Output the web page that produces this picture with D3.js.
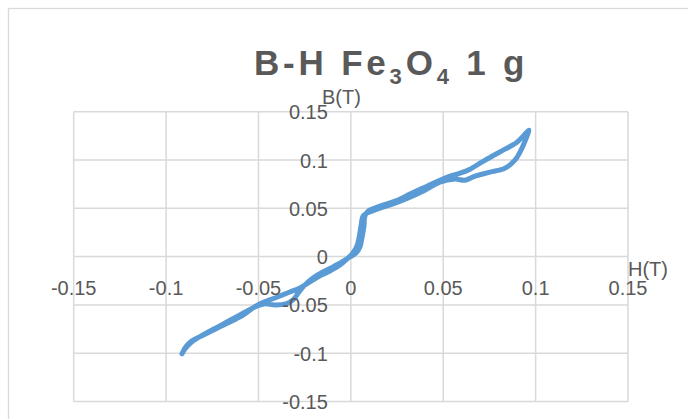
<!DOCTYPE html>
<html><head><meta charset="utf-8">
<script src="https://cdn.jsdelivr.net/npm/d3@7"></script>
<style>
html,body{margin:0;padding:0;background:#fff;}
svg{display:block;}
text{font-family:"Liberation Sans",Arial,sans-serif;fill:#595959;}
</style></head>
<body>
<svg id="c" width="688" height="419"></svg>
<script>
// Ascending branch (bottom-left tip -> top-right tip)
const hUp = [-0.0914,-0.0893,-0.0860,-0.0806,-0.0709,-0.0600,-0.0503,-0.0411,-0.0330,-0.0276,-0.0221,-0.0167,-0.0113,-0.0059,-0.0021,0.0011,0.0033,0.0044,0.0055,0.0066,0.0087,0.0158,0.0239,0.0320,0.0401,0.0482,0.0564,0.0618,0.0672,0.0753,0.0834,0.0888,0.0926,0.0953,0.0964];
const bUp = [-0.1006,-0.0934,-0.0872,-0.0820,-0.0727,-0.0624,-0.0500,-0.0428,-0.0366,-0.0324,-0.0262,-0.0200,-0.0149,-0.0087,-0.0025,0.0037,0.0110,0.0192,0.0316,0.0419,0.0450,0.0502,0.0554,0.0616,0.0688,0.0771,0.0802,0.0791,0.0833,0.0874,0.0915,0.0998,0.1122,0.1246,0.1308];
// Descending branch (top-right tip -> bottom-left tip)
const hDown = [0.0937,0.0899,0.0834,0.0764,0.0699,0.0645,0.0591,0.0537,0.0482,0.0401,0.0320,0.0239,0.0158,0.0093,0.0076,0.0071,0.0060,0.0049,0.0028,-0.0005,-0.0048,-0.0097,-0.0151,-0.0205,-0.0249,-0.0281,-0.0313,-0.0351,-0.0411,-0.0470,-0.0519,-0.0600,-0.0709,-0.0801,-0.0860,-0.0898,-0.0914];
const bDown = [0.1256,0.1184,0.1112,0.1039,0.0967,0.0905,0.0864,0.0833,0.0791,0.0719,0.0647,0.0574,0.0523,0.0471,0.0419,0.0316,0.0192,0.0099,0.0037,-0.0004,-0.0056,-0.0107,-0.0159,-0.0221,-0.0293,-0.0366,-0.0448,-0.0490,-0.0500,-0.0490,-0.0521,-0.0603,-0.0717,-0.0810,-0.0882,-0.0955,-0.1006];

const xTicks = [-0.15,-0.1,-0.05,0,0.05,0.1,0.15];
const yTicks = [-0.15,-0.1,-0.05,0,0.05,0.1,0.15];
const xTickLabels = ["-0.15","-0.1","-0.05","0","0.05","0.1","0.15"];
const yTickLabels = ["-0.15","-0.1","-0.05","0","0.05","0.1","0.15"];

const svg = d3.select("#c");
const x = d3.scaleLinear().domain([-0.15,0.15]).range([73.7,628]);
const y = d3.scaleLinear().domain([-0.15,0.15]).range([401.5,111.7]);

// chart border
svg.append("rect").attr("x",8.5).attr("y",8.5).attr("width",700).attr("height",430)
  .attr("fill","#fff").attr("stroke","#d9d9d9").attr("stroke-width",1.3);

// gridlines
const g = svg.append("g");
g.selectAll(".vx").data(xTicks).join("line")
  .attr("x1",d=>x(d)).attr("x2",d=>x(d)).attr("y1",y(0.15)).attr("y2",y(-0.15))
  .attr("stroke","#d9d9d9").attr("stroke-width",1.5);
g.selectAll(".hy").data(yTicks).join("line")
  .attr("y1",d=>y(d)).attr("y2",d=>y(d)).attr("x1",x(-0.15)).attr("x2",x(0.15))
  .attr("stroke","#d9d9d9").attr("stroke-width",1.5);

// curve
const pts = hUp.map((h,i)=>[h,bUp[i]]).concat(hDown.map((h,i)=>[h,bDown[i]]));
const line = d3.line().x(d=>x(d[0])).y(d=>y(d[1])).curve(d3.curveCatmullRom.alpha(0.5));
svg.append("path").attr("d",line(pts)).attr("fill","none")
  .attr("stroke","#5b9bd5").attr("stroke-width",5)
  .attr("stroke-linejoin","round").attr("stroke-linecap","round");

// tick labels
svg.append("g").selectAll("text").data(xTicks).join("text")
  .attr("x",d=>x(d)).attr("y",y(0)+38.5).attr("text-anchor","middle")
  .attr("font-size",20).text((d,i)=>xTickLabels[i]);
svg.append("g").selectAll("text").data(yTicks).join("text")
  .attr("x",x(0)-23).attr("y",d=>y(d)+7.5).attr("text-anchor","end")
  .attr("font-size",20).text((d,i)=>yTickLabels[i]);

// axis titles
svg.append("text").attr("x",322).attr("y",104).attr("font-size",20).text("B(T)");
svg.append("text").attr("x",628).attr("y",276).attr("font-size",20).text("H(T)");

// title
const t = svg.append("text").attr("x",254).attr("y",75).attr("font-size",35)
  .attr("font-weight","bold").attr("letter-spacing",3.8);
t.append("tspan").text("B-H Fe");
t.append("tspan").attr("font-size",22).attr("dy",9).text("3");
t.append("tspan").attr("dy",-9).text("O");
t.append("tspan").attr("font-size",22).attr("dy",9).text("4");
t.append("tspan").attr("dy",-9).text(" 1 g");
</script>
</body></html>
